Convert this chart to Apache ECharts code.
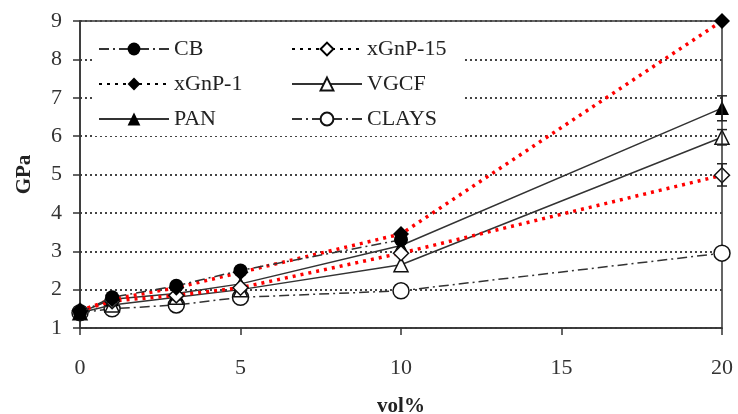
<!DOCTYPE html>
<html>
  <head>
    <meta charset="utf-8" />
    <title>GPa vs vol%</title>
    <script src="https://cdn.jsdelivr.net/npm/echarts@6.0.0/dist/echarts.min.js"></script>
  </head>
  <body style="margin: 0">
    <div id="main" style="width: 738px; height: 414px"></div>
    <script type="text/javascript">
      // data: [vol%, GPa]
      var cb = [[0, 1.4], [1, 1.8], [3, 2.1], [5, 2.5], [10, 3.3]];
      var xgnp1 = [[0, 1.45], [1, 1.75], [3, 2.05], [5, 2.45], [10, 3.45], [20, 9.0]];
      var pan = [[0, 1.4], [1, 1.75], [3, 1.9], [5, 2.15], [10, 3.15], [20, 6.73]];
      var xgnp15 = [[0, 1.45], [1, 1.7], [3, 1.85], [5, 2.05], [10, 2.95], [20, 4.98]];
      var vgcf = [[0, 1.4], [1, 1.6], [3, 1.8], [5, 2.0], [10, 2.65], [20, 5.97]];
      var clays = [[0, 1.4], [1, 1.5], [3, 1.6], [5, 1.8], [10, 1.97], [20, 2.95]];
      // error bars at 20 vol%: [x, low, high]
      var errBars = [[20, 6.4, 7.05], [20, 5.77, 6.17], [20, 4.7, 5.28]];
      var xTicks = [0, 5, 10, 15, 20];

      var font = "Liberation Serif";
      var myChart = echarts.init(document.getElementById("main"));

      var legendText = { fontFamily: font, fontSize: 22, color: "#222" };
      var black = { color: "#000" };

      var option = {
        animation: false,
        backgroundColor: "#fff",
        grid: {
          left: 80, right: 16, top: 21, bottom: 86,
          outerBoundsMode: "none",
          show: true, borderColor: "#333", borderWidth: 1.5
        },
        legend: [
          {
            orient: "vertical", left: 92, top: 34, itemGap: 13,
            itemWidth: 70, itemHeight: 16, textStyle: legendText,
            backgroundColor: "#fff", padding: [4, 60, 6, 6],
            data: [
              { name: "CB" },
              { name: "xGnP-1", itemStyle: black, lineStyle: black },
              { name: "PAN" }
            ]
          },
          {
            orient: "vertical", left: 285, top: 34, itemGap: 13,
            itemWidth: 70, itemHeight: 16, textStyle: legendText,
            backgroundColor: "#fff", padding: [4, 16, 6, 6],
            data: [
              { name: "xGnP-15", itemStyle: { color: "#fff", borderColor: "#000" }, lineStyle: black },
              { name: "VGCF" },
              { name: "CLAYS" }
            ]
          }
        ],
        xAxis: {
          type: "value", min: 0, max: 20, interval: 5,
          name: "vol%", nameLocation: "middle", nameGap: 68,
          nameTextStyle: { fontFamily: font, fontSize: 21, fontWeight: "bold", color: "#222" },
          axisLine: { lineStyle: { color: "#333", width: 1.5 } },
          axisTick: { show: true, length: 7, lineStyle: { color: "#333", width: 1.5 } },
          axisLabel: {
            fontFamily: font, fontSize: 22, color: "#333", margin: 29,
            formatter: function (v) { return xTicks.indexOf(v) >= 0 ? String(v) : ""; }
          },
          splitLine: { show: false }
        },
        yAxis: {
          type: "value", min: 1, max: 9, interval: 1,
          name: "GPa", nameLocation: "middle", nameGap: 45, nameRotate: 90,
          nameTextStyle: { fontFamily: font, fontSize: 21, fontWeight: "bold", color: "#222" },
          axisLine: { show: true, lineStyle: { color: "#333", width: 1.5 } },
          axisTick: { show: true, length: 7, lineStyle: { color: "#333", width: 1.5 } },
          axisLabel: { fontFamily: font, fontSize: 22, color: "#333", margin: 18 },
          splitLine: { show: true, lineStyle: { color: "#444", type: [2, 3], width: 2 } }
        },
        series: [
          {
            name: "CLAYS", type: "line", data: clays, z: 2,
            symbol: "circle", symbolSize: 16,
            itemStyle: { color: "#fff", borderColor: "#111", borderWidth: 1.5 },
            lineStyle: { color: "#333", width: 1.5, type: [10, 4, 2, 4] }
          },
          {
            name: "VGCF", type: "line", data: vgcf, z: 3,
            symbol: "triangle", symbolSize: 14,
            itemStyle: { color: "#fff", borderColor: "#111", borderWidth: 1.5 },
            lineStyle: { color: "#333", width: 1.5 }
          },
          {
            name: "PAN", type: "line", data: pan, z: 3,
            symbol: "triangle", symbolSize: 14,
            itemStyle: { color: "#000" },
            lineStyle: { color: "#333", width: 1.5 }
          },
          {
            name: "xGnP-15", type: "line", data: xgnp15, z: 4,
            symbol: "diamond", symbolSize: 15,
            itemStyle: { color: "#fff", borderColor: "#111", borderWidth: 1.5 },
            lineStyle: { color: "#ff0000", width: 3.5, type: [3, 5] }
          },
          {
            name: "xGnP-1", type: "line", data: xgnp1, z: 4,
            symbol: "diamond", symbolSize: 16,
            itemStyle: { color: "#000" },
            lineStyle: { color: "#ff0000", width: 3.5, type: [3, 5] }
          },
          {
            name: "CB", type: "line", data: cb, z: 5,
            symbol: "circle", symbolSize: 14,
            itemStyle: { color: "#000" },
            lineStyle: { color: "#333", width: 1.5, type: [10, 4, 2, 4] }
          },
          {
            name: "err", type: "custom", data: errBars, z: 6,
            renderItem: function (params, api) {
              var lo = api.coord([api.value(0), api.value(1)]);
              var hi = api.coord([api.value(0), api.value(2)]);
              var w = 5;
              var st = { stroke: "#222", lineWidth: 1.5 };
              return {
                type: "group",
                children: [
                  { type: "line", shape: { x1: lo[0], y1: lo[1], x2: hi[0], y2: hi[1] }, style: st },
                  { type: "line", shape: { x1: lo[0] - w, y1: lo[1], x2: lo[0] + w, y2: lo[1] }, style: st },
                  { type: "line", shape: { x1: hi[0] - w, y1: hi[1], x2: hi[0] + w, y2: hi[1] }, style: st }
                ]
              };
            }
          }
        ]
      };

      myChart.setOption(option);
    </script>
  </body>
</html>
